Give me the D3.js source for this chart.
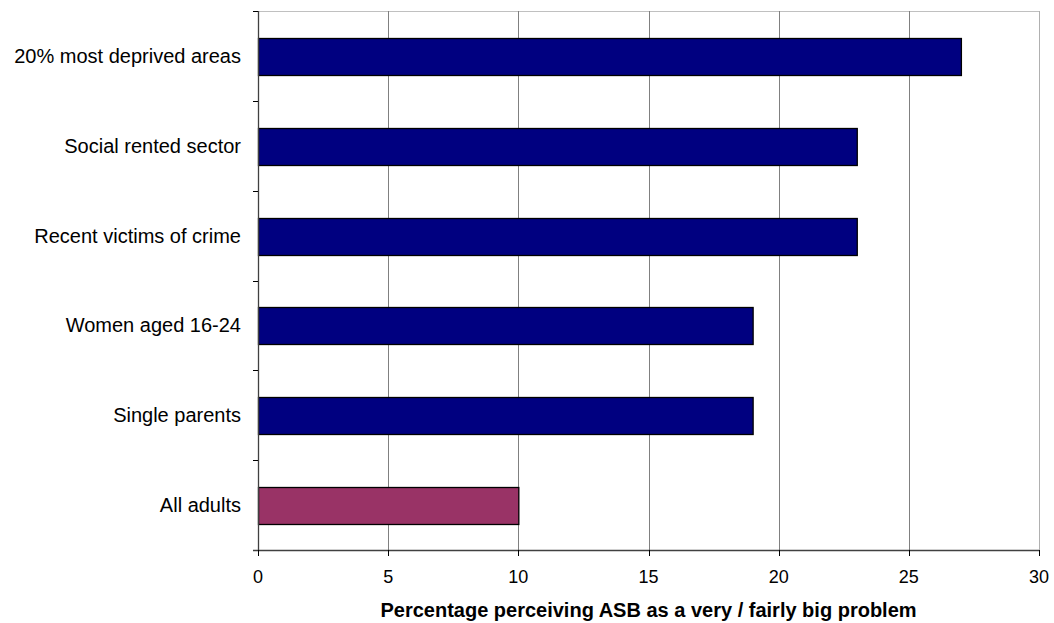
<!DOCTYPE html>
<html><head><meta charset="utf-8">
<script src="https://cdn.jsdelivr.net/npm/d3@7"></script>
<style>body{margin:0;background:#fff}svg{display:block}text{font-family:"Liberation Sans",Arial,sans-serif}</style>
</head><body>
<svg id="c" width="1054" height="623"></svg>
<script>
const categories = ["20% most deprived areas","Social rented sector","Recent victims of crime","Women aged 16-24","Single parents","All adults"];
const values = [27,23,23,19,19,10];
const barColors = ["#000080","#000080","#000080","#000080","#000080","#993366"];
const xTicks = [0,5,10,15,20,25,30];
const xTitle = "Percentage perceiving ASB as a very / fairly big problem";

const svg = d3.select("#c");
const m = {l:258, r:1039, t:11, b:550};
const x = d3.scaleLinear().domain([0,30]).range([m.l, m.r]);
const y = d3.scaleBand().domain(categories).range([m.t, m.b]).padding(0);

// top border
svg.append("line").attr("x1",m.l).attr("x2",m.r).attr("y1",m.t+0.5).attr("y2",m.t+0.5).attr("stroke","#c0c0c0");
// gridlines
svg.append("g").selectAll("line").data(xTicks.slice(1)).join("line")
  .attr("x1",d=>Math.round(x(d))+0.5).attr("x2",d=>Math.round(x(d))+0.5)
  .attr("y1",m.t).attr("y2",m.b)
  .attr("stroke",(d,i)=> d===30 ? "#b0b0b0" : "#808080");

// bars
svg.append("g").selectAll("rect").data(categories).join("rect")
  .attr("x",x(0)+0.5)
  .attr("y",d=>Math.round(y(d)+y.bandwidth()*0.3)+0.5)
  .attr("width",(d,i)=>x(values[i])-x(0))
  .attr("height",Math.round(y.bandwidth()*0.41))
  .attr("fill",(d,i)=>barColors[i])
  .attr("stroke","#000").attr("stroke-width",1.3);

// left axis
svg.append("line").attr("x1",m.l+0.5).attr("x2",m.l+0.5).attr("y1",m.t).attr("y2",m.b).attr("stroke","#404040").attr("stroke-width",1.3);
const bounds = categories.map(c=>y(c)).concat([m.b]);
svg.append("g").selectAll("line").data(bounds).join("line")
  .attr("x1",m.l-5).attr("x2",m.l).attr("y1",d=>Math.round(d)+0.5).attr("y2",d=>Math.round(d)+0.5)
  .attr("stroke","#000");
svg.append("g").selectAll("text").data(categories).join("text")
  .attr("x",m.l-17).attr("y",d=>y(d)+y.bandwidth()/2)
  .attr("text-anchor","end").attr("dominant-baseline","central")
  .attr("font-size",20).attr("fill","#000").text(d=>d);

// bottom axis
svg.append("line").attr("x1",m.l-5).attr("x2",m.r).attr("y1",m.b+0.5).attr("y2",m.b+0.5).attr("stroke","#404040").attr("stroke-width",1.3);
svg.append("g").selectAll("line").data(xTicks).join("line")
  .attr("x1",d=>Math.round(x(d))+0.5).attr("x2",d=>Math.round(x(d))+0.5)
  .attr("y1",m.b).attr("y2",m.b+6).attr("stroke","#000");
svg.append("g").selectAll("text").data(xTicks).join("text")
  .attr("x",d=>x(d)).attr("y",m.b+27)
  .attr("text-anchor","middle").attr("dominant-baseline","central")
  .attr("font-size",18).attr("fill","#000").text(d=>d);

svg.append("text").attr("x",(m.l+m.r)/2).attr("y",610)
  .attr("text-anchor","middle").attr("dominant-baseline","central")
  .attr("font-size",20).attr("font-weight","bold").attr("fill","#000").text(xTitle);
</script>
</body></html>
